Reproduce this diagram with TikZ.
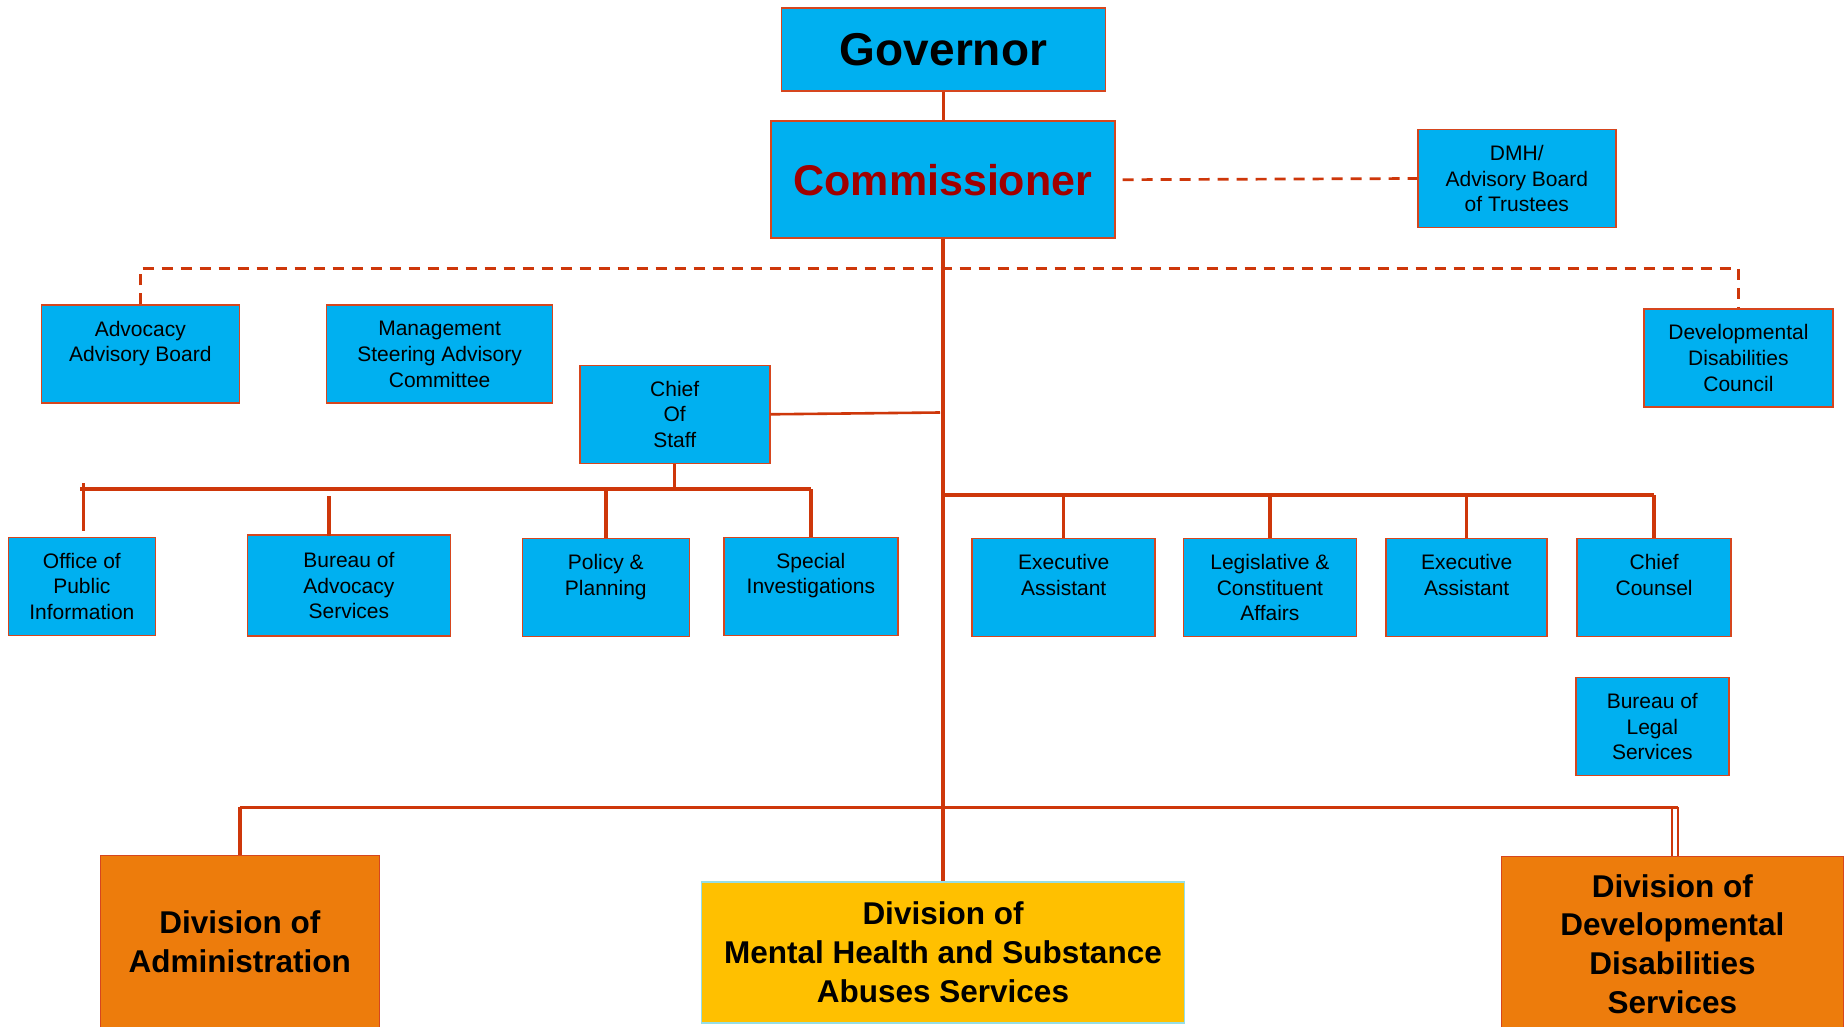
\documentclass[tikz,border=0pt]{standalone}
\usepackage{fontspec}
\setmainfont{Liberation Sans}
\definecolor{cyanbox}{RGB}{0,176,240}
\definecolor{linec}{RGB}{206,55,10}
\definecolor{boxline}{RGB}{214,70,30}
\definecolor{orangebox}{RGB}{237,124,12}
\definecolor{yellowbox}{RGB}{255,192,0}
\definecolor{lightcyan}{RGB}{150,222,230}
\definecolor{commred}{RGB}{160,0,0}
\begin{document}
\begin{tikzpicture}[x=1pt,y=-1pt,
  box/.style={draw=boxline, line width=1.6pt, fill=cyanbox, inner sep=0pt, align=center,
    font=\fontsize{21}{25.8}\selectfont},
  bigtext/.style={inner sep=0pt, align=center, font=\fontsize{31.5}{38.8}\selectfont\bfseries},
  orgline/.style={draw=linec, line width=3.4pt},
  trunkline/.style={draw=linec, line width=4pt},
  thinline/.style={draw=linec, line width=2.6pt},
  dashline/.style={draw=linec, line width=2.7pt, dash pattern=on 11pt off 8pt}
]
\clip (0,0) rectangle (1848,1027);
\fill[white] (0,0) rectangle (1848,1027);

% top
\node[box, minimum width=324pt, minimum height=83pt, font=\fontsize{46}{50}\selectfont\bfseries] (gov) at (943.5,49.5) {Governor};
\node[box, minimum width=344pt, minimum height=117pt, font=\fontsize{43}{48}\selectfont\bfseries, text=commred] (comm) at (942.8,179.7) {Commissioner};
\node[box, minimum width=198pt, minimum height=98pt] (dmh) at (1516.8,178.5) {DMH/\\Advisory Board\\of Trustees};

% advisory row
\node[box, minimum width=198pt, minimum height=98pt] (adv) at (140.3,354.2) {Advocacy\\Advisory Board\\\rule{0pt}{1pt}};
\node[box, minimum width=226pt, minimum height=98pt] (msac) at (439.6,354.2) {Management\\Steering Advisory\\Committee};
\node[box, minimum width=190pt, minimum height=98pt] (cos) at (674.7,414.3) {Chief\\Of\\Staff};
\node[box, minimum width=189pt, minimum height=98pt] (ddc) at (1738.4,357.7) {Developmental\\Disabilities\\Council};

% left row
\node[box, minimum width=147pt, minimum height=98pt] (opi) at (81.9,586.3) {Office of\\Public\\Information};
\node[box, minimum width=203pt, minimum height=101pt] (bas) at (348.9,585.7) {Bureau of\\Advocacy\\Services};
\node[box, minimum width=167pt, minimum height=98pt] (pp) at (605.8,587.5) {Policy \&\\Planning\\\rule{0pt}{1pt}};
\node[box, minimum width=174pt, minimum height=98pt] (si) at (810.9,586.3) {Special\\Investigations\\\rule{0pt}{1pt}};

% right row
\node[box, minimum width=183pt, minimum height=98pt] (ea1) at (1063.7,587.5) {Executive\\Assistant\\\rule{0pt}{1pt}};
\node[box, minimum width=173pt, minimum height=98pt] (lca) at (1269.9,587.5) {Legislative \&\\Constituent\\Affairs};
\node[box, minimum width=161pt, minimum height=98pt] (ea2) at (1466.7,587.5) {Executive\\Assistant\\\rule{0pt}{1pt}};
\node[box, minimum width=154pt, minimum height=98pt] (cc) at (1654.1,587.5) {Chief\\Counsel\\\rule{0pt}{1pt}};
\node[box, minimum width=153pt, minimum height=98pt] (bls) at (1652.3,726.6) {Bureau of\\Legal\\Services};

% divisions
\node[box, fill=orangebox, minimum width=279pt, minimum height=185pt] (adm) at (239.8,948) {};
\node[bigtext] (admt) at (239.8,942) {Division of\\Administration};
\node[box, fill=yellowbox, draw=lightcyan, minimum width=483pt, minimum height=141pt, font=\fontsize{31.5}{38.8}\selectfont\bfseries] (mh) at (943,952.3) {Division of\\Mental Health and Substance\\Abuses Services};
\node[box, fill=orangebox, minimum width=342pt, minimum height=184pt] (dd) at (1672.4,948.4) {};
\node[bigtext] (ddt) at (1672.4,944) {Division of\\Developmental\\Disabilities\\Services};

% coordinates
\coordinate (dashy) at (0,268.7);
\coordinate (lbus) at (0,489);
\coordinate (rbus) at (0,495);
\coordinate (bbus) at (0,807.3);
\coordinate (lbusL) at (80,489);
\coordinate (opiT) at (83.5,483);
\coordinate (opiB) at (83.5,531);
\coordinate (basT) at (329,496);
\coordinate (basB) at (329,536);
\coordinate (cosJ) at (940,412.5);
\coordinate (ddA) at (1672,807.3);
\coordinate (ddB) at (1677.5,807.3);
\coordinate (bbusR) at (1678,807.3);

% dashed links
\path[dashline] ([xshift=7pt]comm.east) -- (dmh.west);
\path[dashline] (adv.north) -- (adv.north |- dashy) -- (ddc.north |- dashy) -- (ddc.north);

% governor to commissioner
\path[thinline] (gov.south) -- (gov.south |- comm.north);

% chief of staff group
\path[thinline] (cos.east) -- (cosJ);
\path[thinline] (cos.south) -- (cos.south |- lbus);
\path[orgline] (lbusL) -- (si.north |- lbus);
\path[orgline] (opiT) -- (opiB);
\path[orgline] (basT) -- (basB);
\path[orgline] (pp.north |- lbus) -- (pp.north);
\path[orgline] (si.north |- lbus) -- (si.north);

% right group
\path[orgline] (comm.south |- rbus) -- (cc.north |- rbus);
\path[orgline] (ea1.north |- rbus) -- (ea1.north);
\path[orgline] (lca.north |- rbus) -- (lca.north);
\path[orgline] (ea2.north |- rbus) -- (ea2.north);
\path[orgline] (cc.north |- rbus) -- (cc.north);

% bottom bus
\path[orgline] (adm.north |- bbus) -- (bbusR);
\path[orgline] (adm.north |- bbus) -- (adm.north);
\path[draw=linec, line width=2pt] (ddA) -- (ddA |- dd.north);
\path[draw=linec, line width=2pt] (ddB) -- (ddB |- dd.north);

% trunk
\path[trunkline] (comm.south) -- (comm.south |- mh.north);
\end{tikzpicture}
\end{document}
